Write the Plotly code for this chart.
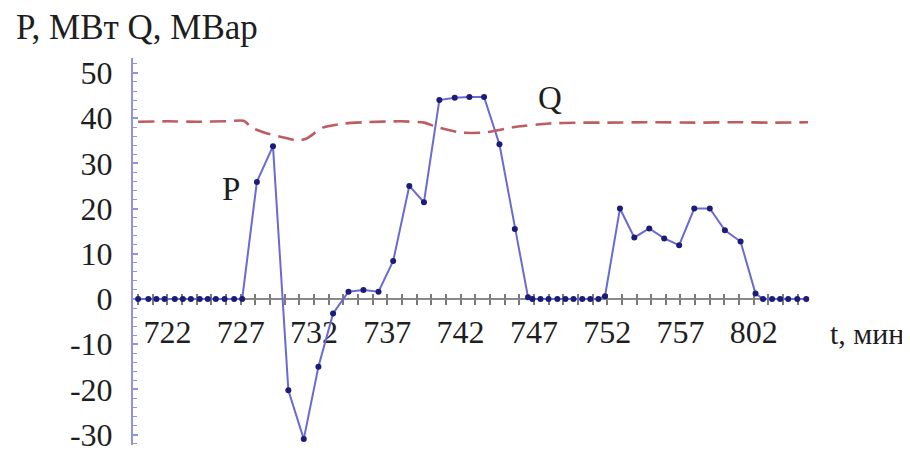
import plotly.graph_objects as go

# Time in minutes after 7:00, active power P, MW
t_p = [20.0, 20.7, 21.25, 21.8, 22.5, 23.05, 23.6, 24.2, 24.75, 25.3, 25.9, 26.55, 27.1,
       28.1, 29.2, 30.25, 31.3, 32.3, 33.3, 34.35, 35.37, 36.4, 37.4, 38.5, 39.5,
       40.55, 41.6, 42.6, 43.6, 44.65, 45.7, 46.6,
       46.9, 47.45, 48.0, 48.6, 49.15, 49.7, 50.3, 50.85, 51.4,
       51.85, 52.87, 53.85, 54.87, 55.89, 56.91, 57.94, 59.0, 60.03, 61.1, 62.12,
       62.63, 63.25, 63.8, 64.35, 64.97, 65.58]
p_vals = [0, 0, 0, 0, 0, 0, 0, 0, 0, 0, 0, 0, 0,
          25.9, 33.8, -20.2, -31.0, -15.0, -3.2, 1.6, 2.0, 1.6, 8.4, 25.0, 21.4,
          44.0, 44.5, 44.7, 44.7, 34.2, 15.5, 0.4,
          0, 0, 0, 0, 0, 0, 0, 0, 0,
          0.6, 20.0, 13.6, 15.6, 13.4, 11.9, 20.0, 20.0, 15.2, 12.7, 1.2,
          0, 0, 0, 0, 0, 0]

# Reactive power Q, MVAr
t_q = [20.0, 22.0, 24.0, 26.0, 27.2, 27.8, 28.8, 29.7, 30.9, 31.5, 32.6, 34.1, 35.5,
       37.9, 39.5, 40.4, 42.0, 43.6, 45.8, 48.0, 50.0, 52.0, 55.0, 58.0, 61.0, 63.0, 66.4]
q_vals = [39.2, 39.3, 39.2, 39.3, 39.4, 37.8, 36.6, 35.9, 35.0, 35.5, 37.9, 38.8, 39.1,
          39.3, 39.0, 38.0, 36.8, 36.8, 38.1, 38.8, 39.0, 39.0, 39.1, 39.0, 39.1, 39.0, 39.1]

x_tick_vals = [22, 27, 32, 37, 42, 47, 52, 57, 62]
x_tick_text = ["722", "727", "732", "737", "742", "747", "752", "757", "802"]
y_tick_vals = [-30, -20, -10, 0, 10, 20, 30, 40, 50]
y_tick_text = ["-30", "-20", "-10", "0", "10", "20", "30", "40", "50"]

X_RANGE = [19.65, 65.7]
Y_RANGE = [-32.3, 53.3]
zero_pos = (0 - Y_RANGE[0]) / (Y_RANGE[1] - Y_RANGE[0])

FONT = "Liberation Serif"
TXT = "#1e1e1e"
GRAY = "#7a7a7a"
AXBLUE = "#8f94dc"

fig = go.Figure()
fig.add_trace(go.Scatter(
    x=t_q, y=q_vals, mode="lines", xaxis="x2", yaxis="y",
    line=dict(color="#bd5c63", width=2.6, dash="16px,8px", shape="spline", smoothing=0.5),
    cliponaxis=False, hoverinfo="skip", showlegend=False))
fig.add_trace(go.Scatter(
    x=t_p, y=p_vals, mode="lines+markers",
    line=dict(color="#6a6ad2", width=2),
    marker=dict(color="#1c1c78", size=6),
    cliponaxis=False, showlegend=False))

# the page body adds an 8px margin, so the figure is sized to fit the window
fig.update_layout(
    width=902, height=447,
    margin=dict(l=125, r=102, t=50, b=10, autoexpand=False),
    plot_bgcolor="white", paper_bgcolor="white",
    font=dict(family=FONT, size=32, color=TXT),
    xaxis=dict(range=X_RANGE, anchor="free", position=zero_pos, automargin=False,
               showgrid=False, zeroline=False,
               showline=True, linecolor="#8a8a8a", linewidth=2,
               tickmode="array", tickvals=x_tick_vals, ticktext=x_tick_text,
               ticks="outside", ticklen=5, tickwidth=1.5, tickcolor=GRAY,
               minor=dict(ticks="outside", dtick=1, tick0=20, ticklen=5,
                          tickwidth=1.5, tickcolor=GRAY),
               ticklabelstandoff=0,
               tickfont=dict(family=FONT, size=32, color=TXT),
               layer="below traces"),
    xaxis2=dict(range=X_RANGE, matches="x", overlaying="x", side="top",
                anchor="free", position=zero_pos, automargin=False,
                showgrid=False, zeroline=False, showline=False,
                showticklabels=False,
                tickmode="array", tickvals=x_tick_vals,
                ticks="outside", ticklen=5, tickwidth=1.5, tickcolor=GRAY,
                minor=dict(ticks="outside", dtick=1, tick0=20, ticklen=5,
                           tickwidth=1.5, tickcolor=GRAY),
                layer="below traces"),
    yaxis=dict(range=Y_RANGE, automargin=False, showgrid=False, zeroline=False,
               showline=True, linecolor=AXBLUE, linewidth=2,
               tickmode="array", tickvals=y_tick_vals, ticktext=y_tick_text,
               ticks="inside", ticklen=5, tickwidth=1.5, tickcolor=AXBLUE,
               minor=dict(ticks="inside", dtick=2, tick0=0, ticklen=4,
                          tickwidth=1.2, tickcolor=AXBLUE),
               ticklabelstandoff=12,
               tickfont=dict(family=FONT, size=32, color=TXT),
               layer="below traces"),
    annotations=[
        dict(text="P, МВт Q, МВар", xref="paper", yref="paper", x=-0.176, y=1.08,
             xanchor="left", yanchor="middle", showarrow=False,
             font=dict(family=FONT, size=35, color=TXT)),
        dict(text="t, мин", xref="paper", yref="paper", x=1.03, y=0.289,
             xanchor="left", yanchor="middle", showarrow=False,
             font=dict(family=FONT, size=30, color=TXT)),
        dict(text="P", xref="x", yref="y", x=26.33, y=24.3,
             xanchor="center", yanchor="middle", showarrow=False,
             font=dict(family=FONT, size=33, color=TXT)),
        dict(text="Q", xref="x", yref="y", x=48.1, y=44.4,
             xanchor="center", yanchor="middle", showarrow=False,
             font=dict(family=FONT, size=33, color=TXT)),
    ],
)

fig.write_html("out.html")
